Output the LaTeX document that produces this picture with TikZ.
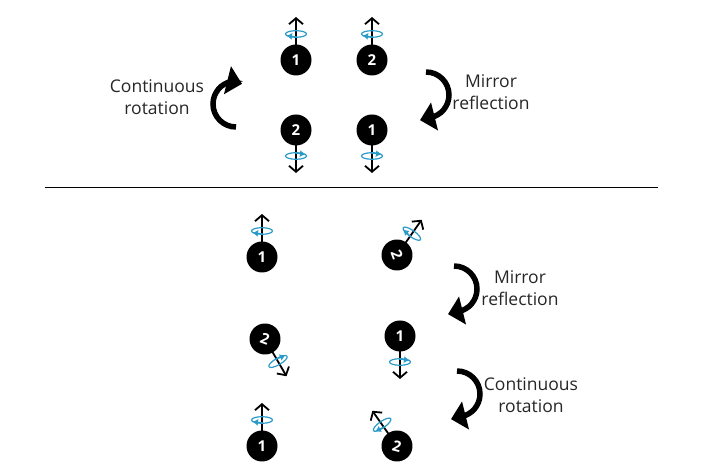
\documentclass[tikz,border=0pt]{standalone}
\usepackage{fontspec}
\setmainfont{Open Sans}
\usetikzlibrary{arrows.meta}
\definecolor{spinblue}{HTML}{2A9AC8}
\tikzset{
  ballc/.style={circle,fill=black,inner sep=0pt,minimum size=31pt,text=white,font=\bfseries\fontsize{15}{15}\selectfont},
  axis/.style={line width=1.8pt,-{Straight Barb[length=6pt,width=14pt,line width=1.8pt]}},
  spin/.style={spinblue,line width=1.2pt},
  turn/.style={line width=5.5pt,-{Triangle[length=15pt,width=28pt]}},
  lab/.style={font=\fontsize{17.5}{22}\selectfont,align=center,text=black!85}
}
% #1 name, #2 position, #3 axis rotation, #4 number, #5 numeral rotation
\newcommand\spinball[5]{%
  \begin{scope}[shift={#2},rotate=#3]
    \draw[axis] (0,0) -- (0,43);
    \draw[spin] (0,26) ellipse (10.5 and 3.3);
    \draw[spin,-{Latex[length=5.5pt,width=7pt]}] (1,23) -- (-9.5,24.3);
  \end{scope}
  \node[ballc,rotate=#5] (#1) at #2 {#4};
}
\begin{document}
\begin{tikzpicture}[x=1pt,y=1pt]
\useasboundingbox (0,0) rectangle (705,470);
\spinball{a}{(296,410)}{0}{1}{0}
\spinball{b}{(372,410)}{0}{2}{0}
\spinball{c}{(296,340)}{180}{2}{0}
\spinball{d}{(372,340)}{180}{1}{0}
\draw[line width=0.8pt] (45,283) -- (658,283);
\draw[turn] (236,343) arc[start angle=270,end angle=100,radius=23] -- ++(10,-2.5);
\draw[turn] (426,398) arc[start angle=90,end angle=-80,radius=23] -- ++(-10,-2.5);
\node[lab] (t1) at (157,373) {Continuous\\rotation};
\node[lab] (t2) at (491,378) {Mirror\\reflection};
\spinball{e}{(262,213)}{0}{1}{0}
\spinball{f}{(397,215)}{-35}{2}{-70}
\spinball{g}{(265,131)}{-150}{2}{-20}
\spinball{h}{(400,134)}{180}{1}{0}
\spinball{i}{(262,24)}{0}{1}{0}
\spinball{j}{(397,24)}{35}{2}{-15}
\draw[turn] (454,204) arc[start angle=90,end angle=-80,radius=23] -- ++(-10,-2.5);
\draw[turn] (457,99) arc[start angle=90,end angle=-80,radius=23] -- ++(-10,-2.5);
\node[lab] (t3) at (520,182) {Mirror\\reflection};
\node[lab] (t4) at (531,75) {Continuous\\rotation};
\end{tikzpicture}
\end{document}
